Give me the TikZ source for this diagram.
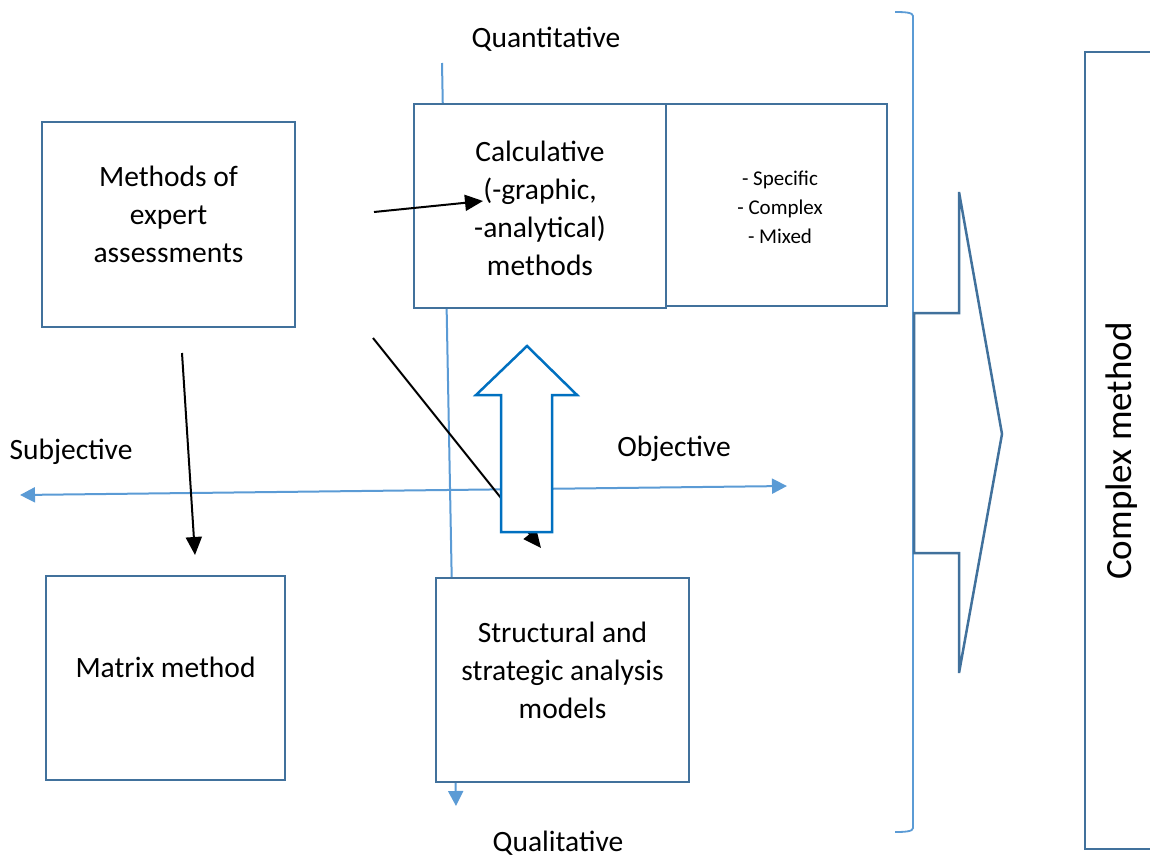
\documentclass[tikz,border=0pt]{standalone}
\usepackage{fontspec}
\setmainfont{Carlito}
\usetikzlibrary{arrows.meta}
\definecolor{boxblue}{RGB}{65,113,156}
\definecolor{axisblue}{RGB}{91,155,213}
\definecolor{arrowblue}{RGB}{0,112,192}
\tikzset{
  box/.style={draw=boxblue, line width=2pt, fill=white, rectangle, inner sep=0pt},
  txt/.style={align=center, font=\fontsize{29.5}{38}\selectfont, inner sep=0pt},
  smalltxt/.style={align=center, font=\fontsize{21}{29}\selectfont, inner sep=0pt},
  axis/.style={draw=axisblue, line width=2pt},
  axtip/.style={-{Triangle[length=15pt,width=15pt]}},
  blk/.style={draw=black, line width=2pt, -{Triangle[length=18pt,width=16pt]}},
}
\begin{document}
\begin{tikzpicture}[x=1pt,y=-1pt]
\useasboundingbox (0,0) rectangle (1150,857);
% axes
\coordinate (vtop) at (442,63);
\coordinate (vbot) at (456,806);
\coordinate (hleft) at (20,495);
\coordinate (hright) at (787,486);
\draw[axis,axtip] (vtop) -- (vbot);
\draw[axis,{Triangle[length=15pt,width=15pt]}-{Triangle[length=15pt,width=15pt]}] (hleft) -- (hright);
% boxes
\node[box, minimum width=253pt, minimum height=205pt] (expert) at (168.5,224.5) {};
\node[box, minimum width=252pt, minimum height=204pt] (calc) at (540,206) {};
\node[box, minimum width=221pt, minimum height=202pt] (spec) at (776.5,205) {};
\node[box, minimum width=239pt, minimum height=204pt] (matrix) at (165.5,678) {};
\node[box, minimum width=253pt, minimum height=204pt] (struct) at (562.5,680) {};
\draw[draw=boxblue, line width=2.5pt] (1165,52) -- (1085,52) -- (1085,849) -- (1165,849);
% texts
\node[txt] (texpert) at (168.5,214) {Methods of\\expert\\assessments};
\node[txt] (tcalc) at (540,208) {Calculative\\(-graphic,\\-analytical)\\methods};
\node[smalltxt] (tspec) at (780,207) {- Specific\\- Complex\\- Mixed};
\node[txt] (tmatrix) at (165.5,667) {Matrix method};
\node[txt] (tstruct) at (562.5,670) {Structural and\\strategic analysis\\models};
\node[txt] (quant) at (546,39) {Quantitative};
\node[txt] (qual) at (558,843) {Qualitative};
\node[txt] (subj) at (71,452) {Subjective};
\node[txt] (obj) at (674,449) {Objective};
\node[font=\fontsize{37}{44}\selectfont, rotate=90, inner sep=0pt] (complex) at (1122,451) {Complex method};
% black arrows
\coordinate (a1s) at (374,212);
\coordinate (a1e) at (483,201);
\coordinate (a2s) at (182,353);
\coordinate (a2e) at (195,555);
\coordinate (a3s) at (373,338);
\coordinate (a3e) at (541,548);
\draw[blk] (a1s) -- (a1e);
\draw[blk] (a2s) -- (a2e);
\draw[blk] (a3s) -- (a3e);
% block up arrow
\draw[draw=arrowblue, line width=2.5pt, fill=white, line join=miter]
  (501,532) -- (552,532) -- (552,395) -- (577,395) -- (527,346) -- (476,395) -- (501,395) -- cycle;
% bracket
\draw[draw=axisblue, line width=1.8pt] (895,12) .. controls (905,12) and (913,12.5) .. (913,16) -- (913,828) .. controls (913,831.5) and (905,832) .. (895,832);
% big chevron arrow
\draw[draw=boxblue, line width=2.5pt, line join=miter]
  (914,313) -- (959,313) -- (959,192) -- (1002,434) -- (959,673) -- (959,553) -- (914,553) -- cycle;
\end{tikzpicture}
\end{document}
